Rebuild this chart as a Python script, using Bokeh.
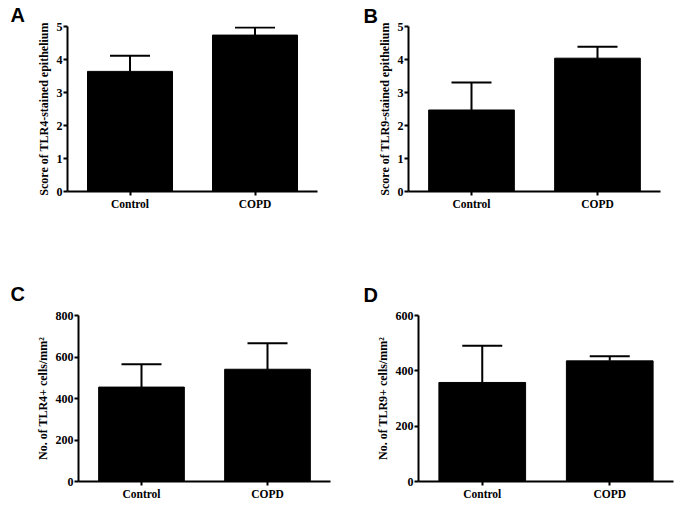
from bokeh.plotting import figure
from bokeh.layouts import column, row
from bokeh.models import (ColumnDataSource, Whisker, TeeHead, FixedTicker,
                          FactorRange, Range1d, Title)
from bokeh.embed import file_html
from bokeh.resources import INLINE

categories = ["Control", "COPD"]

tlr4_score_mean = [3.64, 4.74]
tlr4_score_err = [0.47, 0.23]

tlr9_score_mean = [2.47, 4.04]
tlr9_score_err = [0.83, 0.35]

tlr4_cells_mean = [455, 541]
tlr4_cells_err = [110, 125]

tlr9_cells_mean = [358, 436]
tlr9_cells_err = [133, 17]

SERIF = "Liberation Serif"
SANS = "Liberation Sans"


def panel(letter, means, errs, ymax, yticks, ylabel, w, h, mbl, mbr, mbt, mbb,
          toff, tstand, label_standoff):
    title = Title(text=letter, align="left", offset=toff, standoff=tstand,
                  text_font=SANS, text_font_style="bold", text_font_size="20px",
                  text_color="black", vertical_align="bottom")
    p = figure(width=w, height=h, x_range=FactorRange(*categories, range_padding=0),
               y_range=Range1d(0, ymax), output_backend="svg", toolbar_location=None,
               min_border_left=mbl, min_border_right=mbr, min_border_top=mbt,
               min_border_bottom=mbb, title=title)
    p.outline_line_color = None
    p.xgrid.visible = False
    p.ygrid.visible = False
    p.background_fill_color = "white"
    p.border_fill_color = "white"

    upper = [m + e for m, e in zip(means, errs)]
    src = ColumnDataSource(dict(cat=categories, mean=means, upper=upper))
    p.vbar(x="cat", top="mean", width=0.68, source=src, fill_color="black",
           line_color="black")
    p.add_layout(Whisker(source=src, base="cat", lower="mean", upper="upper",
                         line_color="black", line_width=2, lower_head=None,
                         upper_head=TeeHead(size=40, line_color="black", line_width=2)))

    for ax in (p.xaxis[0], p.yaxis[0]):
        ax.axis_line_color = "black"
        ax.axis_line_width = 2
        ax.major_tick_line_color = "black"
        ax.major_tick_line_width = 2
        ax.major_tick_in = 0
        ax.major_tick_out = 4
        ax.minor_tick_line_color = None
        ax.major_label_text_font = SERIF
        ax.major_label_text_font_style = "bold"
        ax.major_label_text_color = "black"
        ax.major_label_standoff = 2
    p.xaxis[0].major_label_text_font_size = "11.5px"
    p.yaxis[0].major_label_text_font_size = "12px"

    p.yaxis[0].ticker = FixedTicker(ticks=yticks)
    p.yaxis[0].axis_label = ylabel
    p.yaxis[0].axis_label_text_font = SERIF
    p.yaxis[0].axis_label_text_font_style = "bold"
    p.yaxis[0].axis_label_text_font_size = "12px"
    p.yaxis[0].axis_label_text_color = "black"
    p.yaxis[0].axis_label_standoff = label_standoff
    p.yaxis[0].major_label_standoff = 1
    return p


pA = panel("A", tlr4_score_mean, tlr4_score_err, 5, [0, 1, 2, 3, 4, 5],
           "Score of TLR4-stained epithelium", 340, 270, 67, 23, 26, 79, -57, 2, 3)
pB = panel("B", tlr9_score_mean, tlr9_score_err, 5, [0, 1, 2, 3, 4, 5],
           "Score of TLR9-stained epithelium", 345, 270, 68, 25, 26, 79, -45, 0, 3)
pC = panel("C", tlr4_cells_mean, tlr4_cells_err, 800, [0, 200, 400, 600, 800],
           "No. of TLR4+ cells/mm²", 340, 236, 78, 10, 44, 25, -68, 21, 3)
pD = panel("D", tlr9_cells_mean, tlr9_cells_err, 600, [0, 200, 400, 600],
           "No. of TLR9+ cells/mm²", 345, 236, 78, 12, 44, 25, -55, 20, 3)

layout = column(row(pA, pB), row(pC, pD))
open("out.html", "w").write(file_html(layout, INLINE))
